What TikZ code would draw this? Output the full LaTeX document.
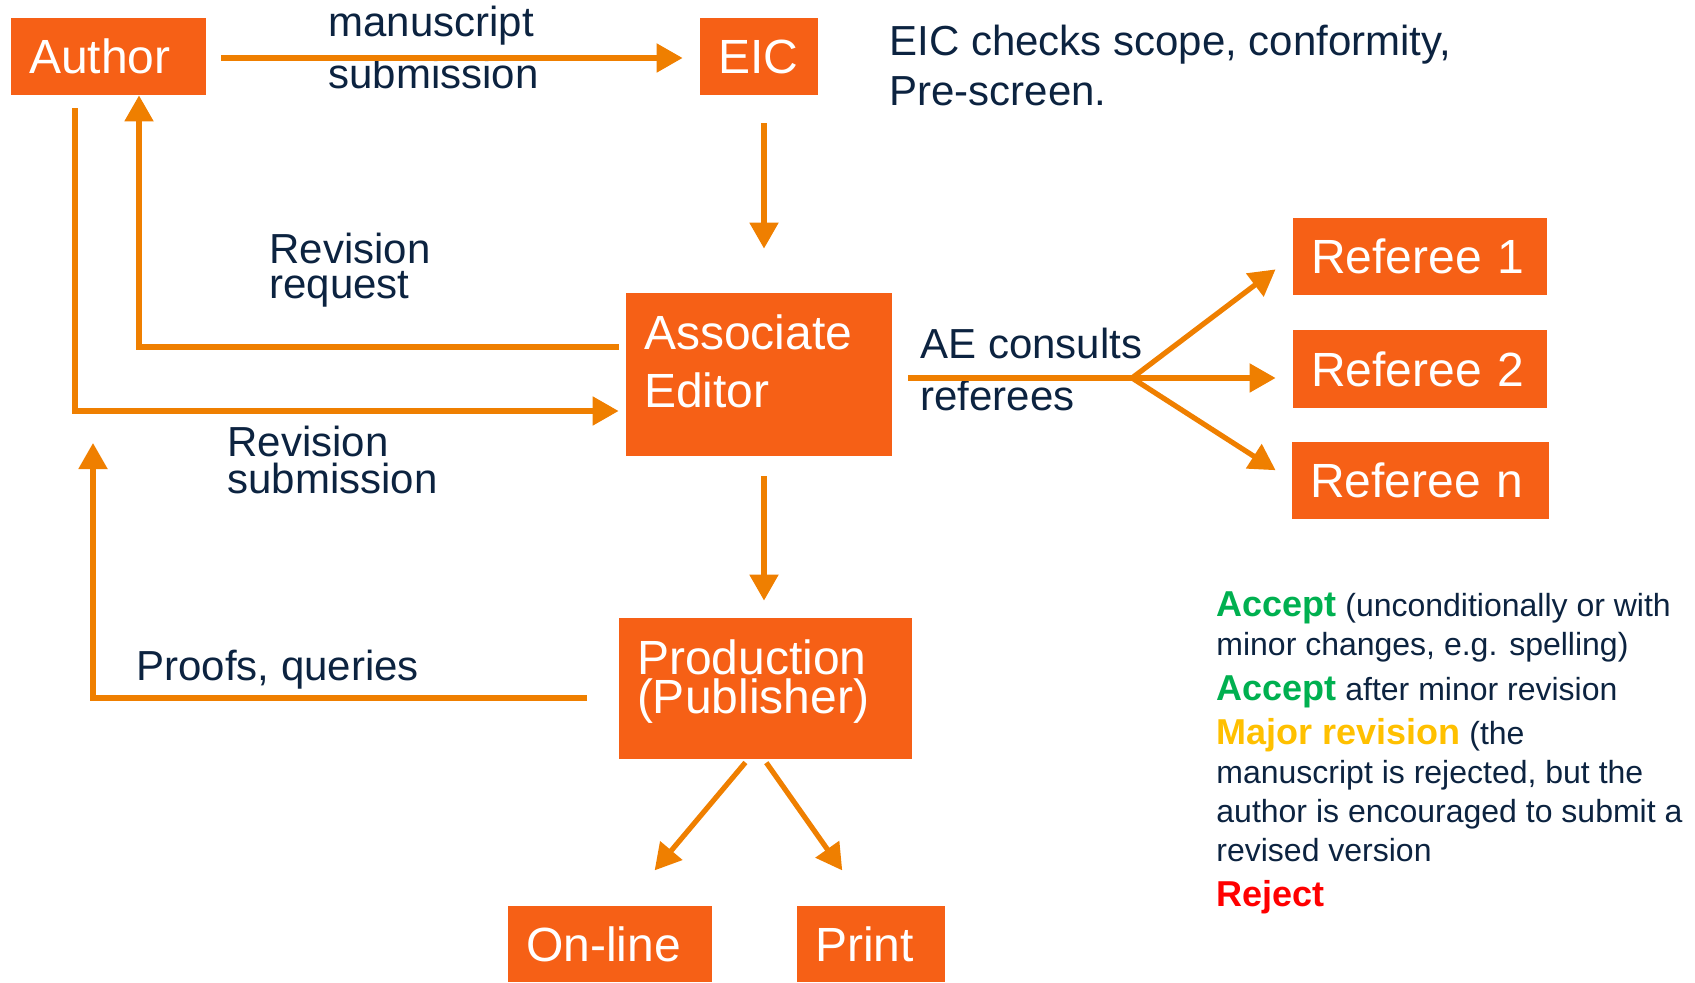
\documentclass[tikz,border=0pt]{standalone}
\usepackage{fontspec}
\setmainfont{Liberation Sans}
\usepackage{xcolor}
\usepackage{tikz}
\usetikzlibrary{arrows.meta, positioning}
\definecolor{boxorange}{RGB}{246,96,22}
\definecolor{arroworange}{RGB}{239,127,0}
\definecolor{textnavy}{RGB}{12,35,64}
\definecolor{acceptgreen}{RGB}{0,176,80}
\definecolor{majoryellow}{RGB}{255,192,0}
\definecolor{rejectred}{RGB}{255,0,0}

\begin{document}
\begin{tikzpicture}[
    x=0.5pt, y=-0.5pt,
    % Styles
    stagebox/.style={rectangle, fill=boxorange, text=white, inner xsep=9pt, inner ysep=0pt, align=left, font=\fontsize{24}{26}\selectfont},
    arrow/.style={-{Triangle[length=13pt, width=14pt]}, line width=2.6pt, color=arroworange},
    plainline/.style={line width=2.6pt, color=arroworange},
    flowlabel/.style={anchor=base west, inner sep=0pt, align=left, text=textnavy, font=\fontsize{21}{26}\selectfont}
]
\useasboundingbox (0,0) rectangle (1695,983);

% Boxes
\node[stagebox, minimum width=97.5pt, minimum height=38.5pt, text width=79.5pt] (author) at (108.5,56.5) {Author};
\node[stagebox, minimum width=59pt, minimum height=38.5pt, text width=41pt] (eic) at (759,56.5) {EIC};
\node[stagebox, minimum width=133pt, minimum height=81.5pt, text width=115pt, text depth=42pt, font=\fontsize{24}{29}\selectfont] (ae) at (759,374.5) {Associate\\Editor};
\node[stagebox, minimum width=127pt, minimum height=38.5pt, text width=109pt] (ref1) at (1420,256.5) {Referee 1};
\node[stagebox, minimum width=127pt, minimum height=39pt, text width=109pt] (ref2) at (1420,369) {Referee 2};
\node[stagebox, minimum width=128.5pt, minimum height=38.5pt, text width=110.5pt] (refn) at (1420.5,480.5) {Referee n};
\node[stagebox, minimum width=146.5pt, minimum height=70.5pt, text width=128.5pt, text depth=31pt, font=\fontsize{24}{19.5}\selectfont] (prod) at (765.5,688.5) {Production\\(Publisher)};
\node[stagebox, minimum width=102pt, minimum height=38pt, text width=84pt] (online) at (610,944) {On-line};
\node[stagebox, minimum width=74pt, minimum height=38pt, text width=56pt] (print) at (871,944) {Print};

% Free points
\coordinate (split) at (1132,378);
\coordinate (proofsend) at (93,443);

% Labels (anchored at the last line)
\node[flowlabel] (sublabel) at (328,89) {manuscript\\submission};
\node[flowlabel, font=\fontsize{21}{25}\selectfont] (eicnote) at (889,106) {EIC checks scope, conformity,\\Pre-screen.};
\node[flowlabel, font=\fontsize{21}{17.5}\selectfont] (reqlabel) at (269,299) {Revision\\request};
\node[flowlabel, font=\fontsize{21}{18}\selectfont] (revlabel) at (227,493) {Revision\\submission};
\node[flowlabel] (prooflabel) at (136,680) {Proofs, queries};
\node[flowlabel] (aelabel) at (920,411) {AE consults\\referees};

% Decisions
\node[anchor=base west, inner sep=0pt, align=left, text=textnavy, font=\fontsize{16}{19.5}\selectfont] (decisions) at (1216,906) {%
{\fontsize{18}{19.5}\selectfont\bfseries\color{acceptgreen}Accept} (unconditionally or with\\
minor changes, e.g. spelling)\\[2.7pt]
{\fontsize{18}{19.5}\selectfont\bfseries\color{acceptgreen}Accept} after minor revision\\[2.7pt]
{\fontsize{18}{19.5}\selectfont\bfseries\color{majoryellow}Major revision} (the\\
manuscript is rejected, but the\\
author is encouraged to submit a\\
revised version\\[2.7pt]
{\fontsize{18}{19.5}\selectfont\bfseries\color{rejectred}Reject}};

% Arrows
\draw[arrow, shorten <=7.5pt, shorten >=8.5pt] ([yshift=-0.75pt]author.east) -- ([yshift=-0.75pt]eic.west);
\draw[arrow, shorten <=14pt, shorten >=22pt] ([xshift=2.5pt]eic.south) -- ([xshift=2.5pt]eic.south |- ae.north);
\draw[arrow, shorten <=3.5pt] ([yshift=13.75pt]ae.west) -| ([xshift=15.25pt]author.south);
\draw[arrow, shorten <=6.5pt, shorten >=3.5pt] ([xshift=-16.75pt]author.south) |- ([yshift=-18.25pt]ae.west);
\draw[arrow, shorten <=10pt, shorten >=8.5pt] ([xshift=2.5pt]ae.south) -- ([xshift=2.5pt]ae.south |- prod.north);
\draw[arrow, shorten <=16pt] ([yshift=-4.75pt]prod.west) -| (proofsend);
\draw[plainline, shorten <=8pt] ([yshift=-1.75pt]ae.east) -- (split);
\draw[arrow, shorten >=10.7pt] (split) -- (ref1.west);
\draw[arrow, shorten >=8.5pt] (split) -- ([yshift=-4.5pt]ref2.west);
\draw[arrow, shorten >=9.5pt] (split) -- (refn.west);
\draw[arrow, shorten <=2pt, shorten >=23pt] ([xshift=-8.75pt]prod.south) -- ([xshift=7.5pt]online.north);
\draw[arrow, shorten <=2pt, shorten >=21.5pt] ([xshift=-0.75pt]prod.south) -- ([xshift=-2pt]print.north);

\end{tikzpicture}
\end{document}
